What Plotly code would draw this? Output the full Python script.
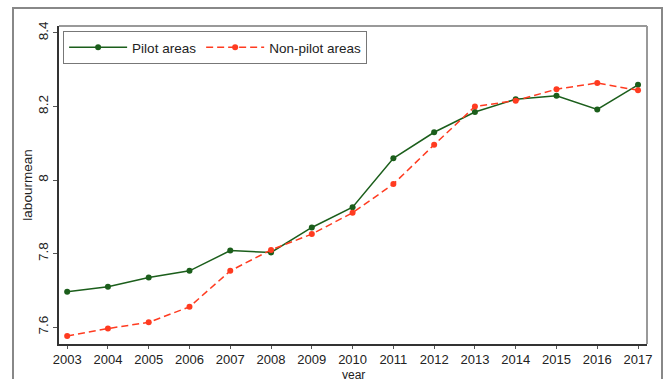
import plotly.graph_objects as go

years = list(range(2003, 2018))
pilot = [7.696, 7.710, 7.735, 7.753, 7.808, 7.803, 7.871, 7.926, 8.059, 8.130,
         8.185, 8.220, 8.229, 8.192, 8.259]
nonpilot = [7.576, 7.596, 7.613, 7.655, 7.753, 7.810, 7.853, 7.911, 7.989, 8.096,
            8.200, 8.216, 8.247, 8.264, 8.244]
y_ticks = [7.6, 7.8, 8.0, 8.2, 8.4]
y_tick_labels = ["7.6", "7.8", "8", "8.2", "8.4"]

GREEN = "#1b5e1b"
RED = "#ff3b20"
FONT = "Liberation Sans, Arial, sans-serif"
FS = 13.5

fig = go.Figure()
fig.add_trace(go.Scatter(
    x=years, y=pilot, name="Pilot areas", mode="lines+markers",
    line=dict(color=GREEN, width=1.5),
    marker=dict(color=GREEN, size=6),
))
fig.add_trace(go.Scatter(
    x=years, y=nonpilot, name="Non-pilot areas", mode="lines+markers",
    line=dict(color=RED, width=1.5, dash="7px,4px"),
    marker=dict(color=RED, size=6),
))

fig.update_layout(
    width=663, height=379,
    margin=dict(l=59, r=16, t=26, b=35, autoexpand=False),
    paper_bgcolor="white", plot_bgcolor="white",
    font=dict(family=FONT, size=FS, color="#222222"),
    showlegend=True,
    legend=dict(
        orientation="h", x=0.007, y=0.984, xanchor="left", yanchor="top",
        bordercolor="#777777", borderwidth=1, bgcolor="white",
        font=dict(size=FS, color="#222222"),
        itemwidth=58, tracegroupgap=0,
    ),
    xaxis=dict(
        range=[2002.80, 2017.22], tickmode="array", tickvals=years,
        ticktext=[str(y) for y in years], tickfont=dict(size=13),
        showgrid=False, zeroline=False,
        showline=True, linecolor="#333333", linewidth=1.5, mirror=False,
        ticks="outside", ticklen=3, tickcolor="#555555",
    ),
    yaxis=dict(
        range=[7.554, 8.419], tickmode="array", tickvals=y_ticks,
        ticktext=y_tick_labels, tickangle=-90,
        showgrid=False, zeroline=False,
        showline=True, linecolor="#333333", linewidth=1.5,
        ticks="outside", ticklen=4, tickcolor="#555555",
        title=dict(text="labourmean", font=dict(size=FS), standoff=0),
    ),
    annotations=[
        dict(text="year", xref="paper", yref="paper", x=0.5, y=0,
             xanchor="center", yanchor="top", yshift=-23, showarrow=False,
             borderpad=0, font=dict(size=12, color="#222222")),
    ],
    shapes=[
        # inner plot frame (top/right)
        dict(type="line", xref="paper", yref="paper", x0=0, x1=1, y0=1, y1=1,
             line=dict(color="#999999", width=2)),
        dict(type="line", xref="paper", yref="paper", x0=1, x1=1, y0=0, y1=1,
             line=dict(color="#999999", width=2)),
        # outer frame
        dict(type="rect", xref="paper", yref="paper",
             x0=(13 - 59) / 588, x1=(662 - 59) / 588,
             y0=(344 - 400) / 318, y1=(344 - 8) / 318,
             line=dict(color="#888888", width=2), layer="below"),
    ],
)

fig.write_html("out.html")
